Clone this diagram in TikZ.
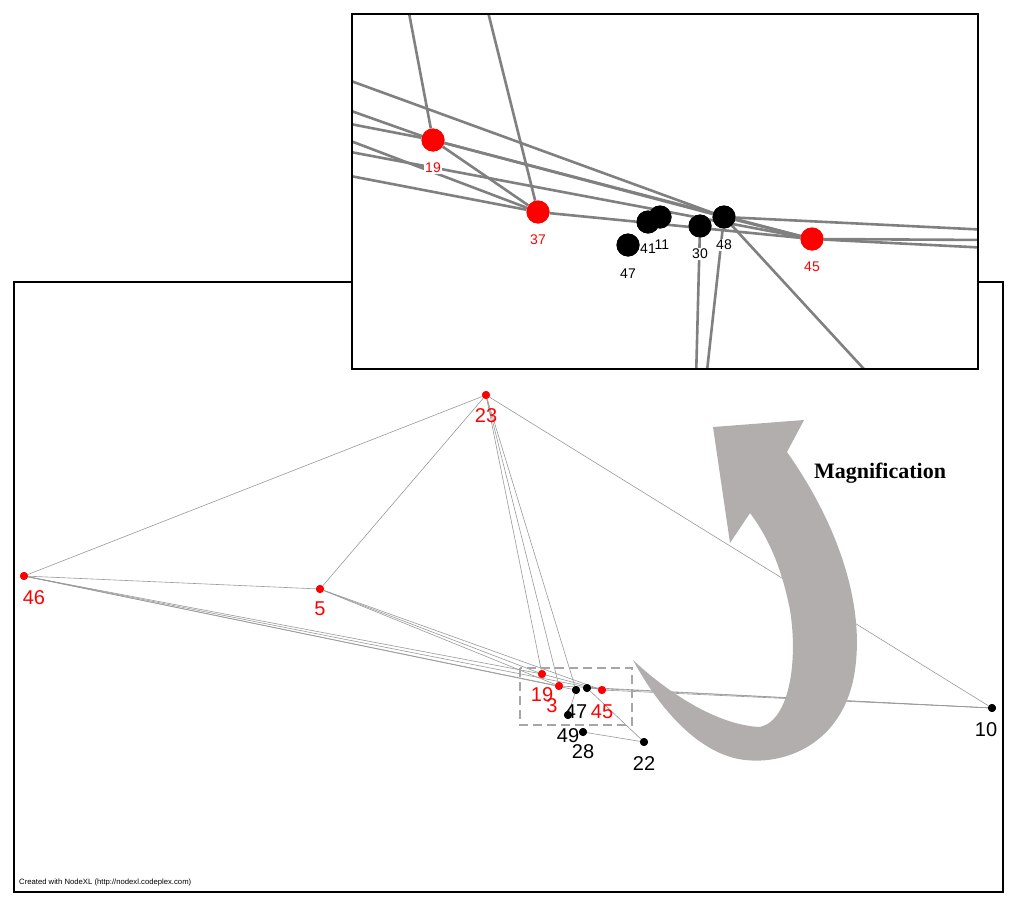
\documentclass[tikz,border=0pt]{standalone}
\usepackage{fontspec}
\setmainfont{Liberation Sans}
\newfontfamily\tnr{Liberation Serif}
\begin{document}
\begin{tikzpicture}[x=1pt,y=-1pt,
  rd/.style={circle,fill=red,inner sep=0,minimum size=8pt},
  bk/.style={circle,fill=black,inner sep=0,minimum size=8pt},
  rdb/.style={circle,fill=red,inner sep=0,minimum size=23pt},
  bkb/.style={circle,fill=black,inner sep=0,minimum size=23pt},
  lr/.style={text=red,font=\fontsize{20}{22}\selectfont,inner sep=0},
  lb/.style={text=black,font=\fontsize{20}{22}\selectfont,inner sep=0},
  slr/.style={text=red,font=\fontsize{14}{15}\selectfont,inner sep=1pt,fill=white},
  slb/.style={text=black,font=\fontsize{14}{15}\selectfont,inner sep=1pt,fill=white},
  e/.style={draw=gray!80,line width=0.6pt},
  E/.style={draw=gray,line width=2.6pt},
  frame/.style={draw=black,line width=2pt}]
\useasboundingbox (0,0) rectangle (1024,907);
% main frame
\draw[frame] (14,282) rectangle (1003,892);
\node[anchor=south west,font=\fontsize{7.7}{8}\selectfont,inner sep=0] (cr) at (19,886) {Created with NodeXL (http://nodexl.codeplex.com)};
% nodes main
\node[rd] (n23) at (486,395) {};
\node[rd] (n46) at (24,576) {};
\node[rd] (n5) at (320,589) {};
\node[bk] (n10) at (992,708) {};
\node[bk] (n22) at (644,742) {};
\node[rd] (n19) at (542,674) {};
\node[rd] (n37) at (559,686) {};
\node[rd] (n45) at (602,690) {};
\node[bk] (n47) at (568,715) {};
\node[bk] (n41) at (576,690) {};
\node[bk] (n11) at (587,688) {};
\node[bk] (n49) at (583,732) {};
% edges main
\draw[e] (n23)--(n46); \draw[e] (n23)--(n5); \draw[e] (n23)--(n10);
\draw[e] (n23)--(n19); \draw[e] (n23)--(n37); \draw[e] (n23)--(n41);
\draw[e] (n46)--(n5); \draw[e] (n46)--(n19); \draw[e] (n46)--(n37);
\draw[e] (n46)--(n41); \draw[e] (n46)--(n45);
\draw[e] (n5)--(n19); \draw[e] (n5)--(n37); \draw[e] (n5)--(n45);
\draw[e] (n45)--(n10); \draw[e] (n11)--(n10); \draw[e] (n37)--(n10);
\draw[e] (n19)--(n45); \draw[e] (n11)--(n22); \draw[e] (n49)--(n22);
\draw[e] (n47)--(n41);
\foreach \n in {n10,n22,n47,n41,n11,n49} \node[bk] at (\n) {};
\foreach \n in {n23,n46,n5,n19,n37,n45} \node[rd] at (\n) {};
\node[lr] (t23) at (486,416) {23};
\node[lr] (t46) at (34,598) {46};
\node[lr] (t5) at (320,609) {5};
\node[lb] (t10) at (986,730) {10};
\node[lb] (t22) at (644,764) {22};
\node[lr] (t19) at (542,695) {19};
\node[lr] (t3) at (552,706) {3};
\node[lb] (t47) at (576,712) {47};
\node[lr] (t45) at (602,712) {45};
\node[lb] (t49) at (568,736) {49};
\node[lb] (t28) at (583,752) {28};
\draw[gray!70,line width=2pt,dash pattern=on 9pt off 5pt] (520,668) rectangle (632,725);
% arrow
\fill[fill={rgb,255:red,178;green,174;blue,174}] (713,427)--(804,420)--(787,452)
  .. controls (835,520) and (865,600) .. (855,670)
  .. controls (845,740) and (790,765) .. (745,760)
  .. controls (700,755) and (660,710) .. (633,660)
  .. controls (665,690) and (715,725) .. (760,727)
  .. controls (790,720) and (798,660) .. (790,610)
  .. controls (782,570) and (770,540) .. (750,513) -- (730,543) -- cycle;
\node[font=\tnr\bfseries\fontsize{22}{24}\selectfont] (mag) at (880,473) {Magnification};
% inset
\fill[white] (352,14) rectangle (978,369);
\begin{scope}
\clip (352,14) rectangle (978,369);
\node[rdb] (i19) at (433,140) {};
\node[rdb] (i37) at (538,212) {};
\node[bkb] (i41) at (648,222) {};
\node[bkb] (i11) at (660,217) {};
\node[bkb] (i47) at (628,245) {};
\node[bkb] (i30) at (700,226) {};
\node[bkb] (i48) at (724,217) {};
\node[rdb] (i45) at (812,239) {};
\coordinate (a1) at (399,-40); \coordinate (a2) at (475,-40);
\coordinate (b1) at (340,77); \coordinate (b2) at (340,107); \coordinate (b3) at (340,122);
\coordinate (b4) at (340,137); \coordinate (b5) at (340,150); \coordinate (b6) at (340,174);
\coordinate (r1) at (990,230); \coordinate (r2) at (990,240); \coordinate (r3) at (990,248);
\coordinate (d1) at (696,380); \coordinate (d2) at (706,380); \coordinate (d3) at (874,380);
\draw[E] (a1)--(i19); \draw[E] (a2)--(i37);
\draw[E] (b1)--(i48); \draw[E] (b2)--(i19); \draw[E] (b3)--(i19);
\draw[E] (b4)--(i37); \draw[E] (b5)--(i45); \draw[E] (b6)--(i37);
\draw[E] (i19)--(i37); \draw[E] (i19)--(i45); \draw[E] (i19)--(i48);
\draw[E] (i37)--(i45); \draw[E] (i48)--(r1); \draw[E] (i45)--(r2); \draw[E] (i45)--(r3);
\draw[E] (i48)--(i45);
\draw[E] (i30)--(d1); \draw[E] (i48)--(d2); \draw[E] (i48)--(d3);
\foreach \n in {i19,i37,i45} \node[rdb] at (\n) {};
\foreach \n in {i47,i41,i11,i30,i48} \node[bkb] at (\n) {};
\node[slr] (u19) at (433,168) {19};
\node[slr] (u37) at (538,240) {37};
\node[slr] (u45) at (812,267) {45};
\node[slb] (u47) at (628,274) {47};
\node[slb,fill=none] (u41) at (648,249) {41};
\node[slb,fill=none] (u11) at (662,245) {11};
\node[slb] (u30) at (700,254) {30};
\node[slb] (u48) at (724,245) {48};
\end{scope}
\draw[frame] (352,14) rectangle (978,369);
\end{tikzpicture}
\end{document}
